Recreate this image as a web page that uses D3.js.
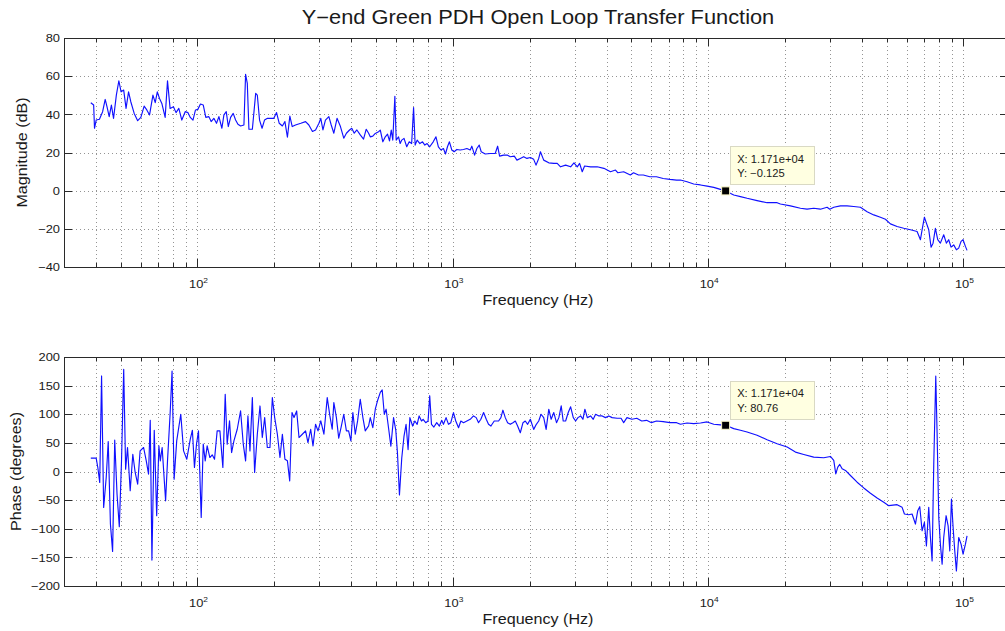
<!DOCTYPE html>
<html><head><meta charset="utf-8">
<script src="https://cdn.jsdelivr.net/npm/d3@7"></script>
<style>html,body{margin:0;padding:0;background:#fff;overflow:hidden}svg{display:block}</style>
</head><body><svg id="c" width="1005" height="631"></svg>
<script>
// ---------------- DATA ----------------
const chartTitle = "Y\u2212end Green PDH Open Loop Transfer Function";
const xLabel = "Frequency (Hz)";
const magLabel = "Magnitude (dB)";
const phaseLabel = "Phase (degrees)";

const magFreq = [38.2,39.2,39.5,40.1,41.3,42.5,43.5,44.2,45.1,46.0,46.9,48.1,49.2,50.2,51.4,52.5,53.7,54.8,56.5,58.3,60.0,61.8,63.3,64.9,66.9,68.3,69.6,71.0,72.5,74.7,76.3,78.1,80.5,82.4,84.5,86.8,89.5,91.7,93.7,96.0,98.2,100.3,102.7,105.3,107.8,110.8,113.1,115.9,118.7,121.3,124.6,126.9,129.6,132,134.8,138,141,144,147.5,152,154.3,156.7,159,164,169,171.5,175,179,183,188,199,204,209,215,220,225,230,235,242,254,265,273,282,290,299,304,310,317,327,334,342,352,363,374,383,394,402,411,421,434,447,458,468,
475,486,497,512,520,532,544,555,565,574,582,593,600,613,622,631,644,660,675,690,702,712,725,743,761,777,793,812,838,859,878,898,919,936,953,970,991,1012,1037,1068,1101,1135,1170,1187,1217,1242,1269,1292,1340,1402,1466,1498,1525,1581,1639,1679,1741,1783,1838,1895,1952,2012,2074,2118,2170,2204,2270,2376,2486,2564,2642,2766,2894,2982,3072,3138,3213,3282,3464,3677,3906,4146,4337,4425,4669,4957,5103,5336,5574,5912,6277,6667,7085,7527,
7790,8270,8780,9330,9910,10520,11170,11710,12600,13380,14210,15550,17020,18630,19190,21010,22990,24410,25920,27530,29240,29950,31050,32970,35010,37180,39490,41940,44540,47300,49480,51760,54970,58380,62000,65840,67850,68870,70330,71610,73130,74680,76030,77650,79300,81220,83700,85730,87560,89420,91590,93840,95830,97880,99660,101800,103300];
const magDb = [46.1,44.9,32.7,37.0,37.4,41.4,47.8,44.0,38.8,44.9,37.9,50.1,57.6,51.8,52.7,43.1,51.8,46.6,40.5,36.7,38.4,44.3,42.3,39.7,50.1,46.1,51.8,48.3,45.7,38.4,57.6,43.1,44.0,40.9,43.1,37.0,41.4,40.9,38.4,37.0,42.3,42.6,45.4,44.9,38.4,38.8,36.2,37.9,35.3,38.8,32.7,39.7,41.4,33.6,38.4,40.5,37.0,34.8,33.9,34.4,61.0,56.2,32.2,32.2,51.0,50.1,37.0,32.7,37.0,37.9,37.9,40.9,35.3,33.9,36.2,28.0,39.1,33.6,34.4,35.3,36.2,34.4,31.0,31.8,35.3,37.9,31.8,37.0,38.8,34.4,30.1,37.9,33.6,27.5,30.1,31.8,32.7,30.1,31.8,29.2,27.0,32.2,30.1,
28.2,28.6,30.0,30.9,31.7,25.6,28.2,29.6,26.1,31.7,26.5,49.5,26.5,28.2,24.7,26.5,27.4,23.0,25.6,24.7,43.6,23.9,26.5,24.7,25.6,23.9,24.7,23.0,25.6,28.2,23.0,21.3,22.1,19.2,23.0,25.6,21.3,20.4,21.6,21.3,21.6,22.1,21.3,23.3,18.6,22.1,23.9,20.4,19.2,19.5,19.5,23.3,18.1,18.6,18.6,17.8,18.1,16.0,16.9,17.8,16.9,17.4,16.4,13.4,16.9,20.4,16.0,14.6,14.3,14.3,12.5,13.4,12.5,14.6,12.5,14.3,9.9,12.9,12.5,12.5,11.7,9.9,10.8,9.4,9.9,8.2,9.4,8.2,8.2,7.3,7.3,6.4,5.9,5.5,
5.6,4.7,3.5,3.0,2.4,1.7,0.7,-0.125,-2.3,-3.1,-4.0,-5.2,-6.3,-6.3,-7.0,-8.0,-9.2,-9.7,-9.2,-9.7,-8.7,-9.7,-8.7,-8.0,-8.0,-8.3,-8.7,-11.0,-12.7,-13.9,-15.0,-17.4,-18.8,-19.7,-20.5,-21.4,-25.7,-20.5,-13.9,-17.0,-20.5,-29.6,-27.5,-19.7,-25.7,-27.5,-23.1,-27.5,-25.7,-29.6,-28.4,-31.0,-30.1,-26.6,-25.7,-29.2,-31.3];

const phaseFreq = [38.2,40.1,40.7,41.4,42.1,42.9,43.9,44.7,45.6,46.5,47.4,48.4,49.4,50.4,51.4,52.3,53.2,54.5,55.8,57.0,58.3,59.6,61.5,63.0,64.3,65.3,66.3,67.7,69.2,70.6,71.5,72.7,75.0,76.3,78.1,79.5,81.0,82.9,86.0,88.2,90.8,93.7,95.5,97.3,99.1,100.9,103.4,105.3,107.2,109.1,111.8,114.2,116.6,119.4,122.4,125.7,128.4,130.7,133.5,136.0,138.9,143.1,147.5,151.1,154.3,157.6,160.5,164,167.4,171.5,175.7,179.4,183.3,187.7,192.2,196.4,200.6,205.5,210.4,215,220,225,229.7,234.5,238.8,244.6,249.8,257.4,265,270.8,277.5,283.4,290,296.5,304,312.7,322.2,330,337,342,350,357.4,364.9,374,383,390.7,398.8,406,414.9,423.7,434,444.4,454,468,
475,486,497,507,520,529,539,548,560,572,586,598,607,618,631,644,656,668,679,696,710,725,738,754,765,783,800,812,825,843,865,886,905,919,941,962,982,1006,1027,1053,1075,1101,1135,1170,1205,1235,1261,1288,1320,1352,1380,1410,1453,1511,1543,1571,1605,1639,1679,1720,1757,1794,1838,1883,1922,1964,2012,2074,2124,2170,2216,2270,2320,2376,2428,2486,2548,2602,2658,2706,2766,2832,2894,2964,3027,3091,3166,3233,3291,3364,3464,3548,3624,3734,3846,3963,4084,4207,4400,4560,4669,4809,5030,5254,5494,5741,6000,6277,6667,7085,7527,
7790,8270,8780,9330,9910,10520,11170,11710,12600,13380,14210,15550,17020,18630,20390,21980,23690,25920,28380,30130,31050,31620,32200,32780,33480,34500,36090,38330,40700,43220,45900,48750,51000,54970,57510,58730,61070,62930,64860,66230,67440,68870,70330,71610,73130,74250,75380,76520,77910,78860,80050,81220,82500,83700,85520,87100,88410,89740,91100,92470,93840,95830,97880,99660,101800,103300];
const phaseDeg = [23.3,23.3,7.0,-19.2,166.9,-62.8,-10.5,52.3,-91.9,-139.5,54.7,-39.5,-96.5,18.6,178.5,4.1,41.9,-33.7,30.2,-1.7,-22.1,36.0,41.9,18.6,-4.7,89.5,-154.7,72.1,-77.3,44.8,18.6,41.9,-51.2,18.6,100.0,175.6,-13.4,53.5,100.0,36.0,21.5,56.4,72.1,7.0,47.7,70.9,-80.2,47.7,18.6,44.8,24.4,29.1,21.5,70.9,70.9,7.0,134.9,47.7,88.4,33.1,53.5,73.8,105.8,47.7,18.6,97.1,36.0,129.1,-1.7,65.1,114.5,59.3,94.2,41.9,41.9,129.1,94.2,65.1,24.4,65.1,21.5,18.6,-16.3,102.9,94.2,105.8,59.3,65.1,70.9,50.6,73.8,44.8,82.6,70.9,88.4,65.1,129.1,97.1,73.8,120.3,94.2,58.1,76.7,100.0,70.9,70.9,53.5,102.9,65.1,88.4,126.2,94.2,70.9,79.7,
94.1,76.5,108.8,123.5,138.2,142.4,100.0,108.8,76.5,44.2,94.1,71.8,32.4,-41,23.6,61.8,82.4,38.3,94.1,79.4,88.2,82.4,97.1,88.2,91.2,85.3,88.2,132.4,82.4,77.7,85.3,79.4,89.4,82.4,94.1,82.4,85.3,103,88.2,76.5,88.2,85.3,88.2,91.2,97.1,94.1,85.3,91.2,103,91.2,82.4,79.4,88.2,88.2,94.1,107.1,94.1,85.3,82.4,85.3,88.2,79.4,67.7,85.3,88.2,82.4,91.2,73.6,82.4,88.2,100,94.1,73.6,108.8,91.2,103,85.3,94.1,114.7,88.2,88.2,103,113,94.1,88.2,94.1,97.1,91.2,108.8,94.1,97.1,91.2,100,97.1,97.1,94.1,97.1,94.1,93,93,85.3,94.1,91.2,93,88.2,89.4,85.3,88.2,87.1,85.3,85.3,
82.5,84.8,83.7,84.8,86.6,82.5,81.5,80.76,74.9,72.0,69.0,63.2,55.6,48.6,42.7,33.9,29.8,25.2,24.0,26.3,19.3,-4.1,7.6,12.3,4.7,1.8,-7.0,-18.7,-28.7,-38.0,-46.2,-53.8,-59.7,-57.9,-62.6,-74.3,-75.5,-74.3,-91.8,-68.4,-61.4,-103.5,-88.9,-129.9,-62.6,-115.3,-156.2,13.5,166.7,66.1,-80.1,-126.9,-162.0,-115.3,-77.2,-94.8,-138.6,-48.0,-97.7,-138.6,-173.7,-115.3,-126.9,-144.5,-126.9,-112.3];

const magTicks = [-40,-20,0,20,40,60,80];
const phaseTicks = [-200,-150,-100,-50,0,50,100,150,200];
const freqDomain = [30,150000];
const decadeTicks = [100,1000,10000,100000];
const decadeExps = ["2","3","4","5"];

const tipFreq = 11710;
const tipMag = -0.125;
const tipPhase = 80.76;
const tipMagText = ["X: 1.171e+04","Y: \u22120.125"];
const tipPhaseText = ["X: 1.171e+04","Y: 80.76"];

// ---------------- DRAW ----------------
const FONT = '"Liberation Sans", Arial, Helvetica, sans-serif';
const SX = 1.12;
const svg = d3.select('#c');
const x = d3.scaleLog().domain(freqDomain).range([64, 1008.4]);
const allTicks = x.ticks().filter(t => t >= freqDomain[0] && t <= freqDomain[1]);
const isMajor = t => Math.abs(Math.log10(t) - Math.round(Math.log10(t))) < 1e-9;

function stext(g, tx, ty, str, size, anchor, rot) {
  const t = g.append('text')
    .attr('transform', `translate(${tx},${ty})` + (rot ? ` rotate(${rot})` : '') + ` scale(${SX},1)`)
    .attr('font-family', FONT).attr('font-size', size)
    .attr('fill', '#1a1a1a').attr('text-anchor', anchor || 'start')
    .text(str);
  return t;
}

stext(svg, 538, 24, chartTitle, 19.5, 'middle');

const panels = [
  {top:38, bottom:267, dom:[-40,80], ticks:magTicks, f:magFreq, v:magDb, label:magLabel, labelX:27, tipY:tipMag, tipText:tipMagText},
  {top:357, bottom:586, dom:[-200,200], ticks:phaseTicks, f:phaseFreq, v:phaseDeg, label:phaseLabel, labelX:21, tipY:tipPhase, tipText:tipPhaseText}
];

panels.forEach((p, i) => {
  const y = d3.scaleLinear().domain(p.dom).range([p.bottom, p.top]);
  const g = svg.append('g');
  const L = x.range()[0], R = x.range()[1];
  const clipId = 'clip' + i;
  svg.append('clipPath').attr('id', clipId).append('rect')
    .attr('x', L).attr('y', p.top).attr('width', R - L).attr('height', p.bottom - p.top);

  // grid
  const grid = g.append('g').attr('stroke', '#949494').attr('stroke-width', 1)
    .attr('stroke-dasharray', '1,3').attr('shape-rendering', 'crispEdges');
  allTicks.forEach(t => {
    const xx = Math.round(x(t)) + 0.5;
    if (xx <= L + 1 || xx >= R - 1) return;
    grid.append('line').attr('x1', xx).attr('x2', xx).attr('y1', p.top).attr('y2', p.bottom);
  });
  p.ticks.forEach(t => {
    const yy = Math.round(y(t)) + 0.5;
    if (yy <= p.top + 1 || yy >= p.bottom - 1) return;
    grid.append('line').attr('x1', L).attr('x2', R).attr('y1', yy).attr('y2', yy);
  });

  // data line
  const pts = p.f.map((f, k) => [f, p.v[k]]);
  g.append('path').attr('clip-path', `url(#${clipId})`)
    .datum(pts)
    .attr('fill', 'none').attr('stroke', '#1010ff').attr('stroke-width', 1.15)
    .attr('stroke-linejoin', 'round')
    .attr('d', d3.line().x(d => x(d[0])).y(d => y(d[1])));

  // ticks
  const tk = g.append('g').attr('stroke', '#2a2a2a').attr('stroke-width', 1).attr('shape-rendering', 'crispEdges');
  allTicks.forEach(t => {
    const xx = Math.round(x(t)) + 0.5;
    const len = isMajor(t) ? 8 : 4;
    tk.append('line').attr('x1', xx).attr('x2', xx).attr('y1', p.bottom).attr('y2', p.bottom - len);
    tk.append('line').attr('x1', xx).attr('x2', xx).attr('y1', p.top).attr('y2', p.top + len);
  });
  p.ticks.forEach(t => {
    const yy = Math.round(y(t)) + 0.5;
    tk.append('line').attr('x1', L).attr('x2', L + 8).attr('y1', yy).attr('y2', yy);
    tk.append('line').attr('x1', R).attr('x2', R - 8).attr('y1', yy).attr('y2', yy);
  });

  // frame
  g.append('rect').attr('x', L + 0.5).attr('y', p.top + 0.5).attr('width', R - L)
    .attr('height', p.bottom - p.top).attr('fill', 'none').attr('stroke', '#2a2a2a')
    .attr('stroke-width', 1).attr('shape-rendering', 'crispEdges');

  // y tick labels
  p.ticks.forEach(t => {
    const lbl = (t < 0 ? '\u2212' + Math.abs(t) : String(t));
    stext(g, 60, y(t) + 4.2, lbl, 11.5, 'end');
  });

  // x tick labels
  decadeTicks.forEach((t, k) => {
    const tx = g.append('text')
      .attr('transform', `translate(${x(t) + 1},${p.bottom + 21}) scale(${SX},1)`)
      .attr('font-family', FONT).attr('font-size', 11.5).attr('fill', '#1a1a1a')
      .attr('text-anchor', 'middle');
    tx.append('tspan').text('10');
    tx.append('tspan').attr('font-size', 7.5).attr('dy', -5).text(decadeExps[k]);
  });

  // axis labels
  stext(g, 538, p.bottom + 38, xLabel, 14.4, 'middle');
  stext(g, p.labelX, (p.top + p.bottom) / 2, p.label, 14.4, 'middle', -90);

  // data tip
  const mx = x(tipFreq), my = y(p.tipY);
  const bx = mx + 4.5, by = my - 6 - 38.5;
  g.append('rect').attr('x', Math.round(bx) + 0.5).attr('y', Math.round(by) + 0.5)
    .attr('width', 84).attr('height', 38)
    .attr('fill', '#ffffe1').attr('stroke', '#d9d9c4').attr('stroke-width', 1);
  stext(g, bx + 7, by + 16.5, p.tipText[0], 10, 'start');
  stext(g, bx + 7, by + 31, p.tipText[1], 10, 'start');
  g.append('rect').attr('x', mx - 4).attr('y', my - 4).attr('width', 8).attr('height', 8)
    .attr('fill', '#000').attr('stroke', '#fbf7c8').attr('stroke-width', 1);
});
</script>
</body></html>
